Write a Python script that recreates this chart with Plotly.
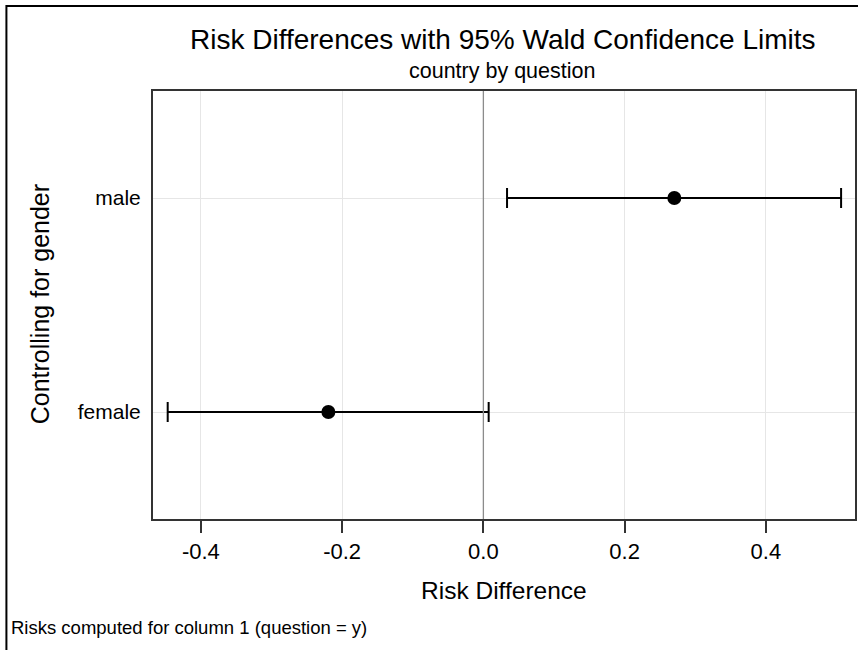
import plotly.graph_objects as go

# Risk difference estimates with 95% Wald confidence limits, by stratum
categories = ["female", "male"]
estimates = [-0.2195, 0.2704]
lower_limits = [-0.447, 0.0335]
upper_limits = [0.0075, 0.5065]
x_ticks = [-0.4, -0.2, 0.0, 0.2, 0.4]
x_tick_labels = ["-0.4", "-0.2", "0.0", "0.2", "0.4"]

FONT = "Liberation Sans, Arial, sans-serif"

err_plus = [u - e for u, e in zip(upper_limits, estimates)]
err_minus = [e - l for e, l in zip(estimates, lower_limits)]

fig = go.Figure()
fig.add_trace(go.Scatter(
    x=estimates,
    y=categories,
    mode="markers",
    marker=dict(symbol="circle", size=14, color="black"),
    error_x=dict(type="data", symmetric=False, array=err_plus, arrayminus=err_minus,
                 color="black", thickness=2, width=10),
    showlegend=False,
    hoverinfo="x+y",
))

# Reference line at zero difference
fig.add_shape(type="line", xref="x", yref="paper", x0=0, x1=0, y0=0, y1=1,
              line=dict(color="#8c8c8c", width=1.3), layer="above")

# Outer graph border
fig.add_shape(type="rect", xref="paper", yref="paper",
              x0=(6 - 153) / 704, x1=(866 - 153) / 704,
              y0=(519 - 660) / 428, y1=(519 - 6) / 428,
              line=dict(color="black", width=2), fillcolor="rgba(0,0,0,0)")


def py(pixel_y):
    """Convert a page pixel row to paper y (plot area spans rows 91..519)."""
    return (519 - pixel_y) / 428


def px(pixel_x):
    """Convert a page pixel column to paper x (plot area spans columns 153..857)."""
    return (pixel_x - 153) / 704


annotations = [
    dict(text="Risk Differences with 95% Wald Confidence Limits", x=px(504), y=py(39),
         font=dict(size=28, family=FONT, color="black")),
    dict(text="country by question", x=px(503), y=py(71),
         font=dict(size=21.5, family=FONT, color="black")),
    dict(text="Risk Difference", x=px(505), y=py(590),
         font=dict(size=24.5, family=FONT, color="black")),
    dict(text="Controlling for gender", x=px(40), y=py(304), textangle=-90,
         font=dict(size=25, family=FONT, color="black")),
    dict(text="Risks computed for column 1 (question = y)", x=px(9),
         y=py(627), xanchor="left",
         font=dict(size=18.5, family=FONT, color="black")),
]
for a in annotations:
    a.setdefault("xanchor", "center")
    a.update(xref="paper", yref="paper", yanchor="middle", showarrow=False)

fig.update_layout(
    width=858, height=650,
    margin=dict(l=153, r=1, t=91, b=131),
    paper_bgcolor="white", plot_bgcolor="white",
    font=dict(family=FONT, color="black"),
    annotations=annotations,
    xaxis=dict(
        range=[-0.4678, 0.5262],
        tickvals=x_ticks, ticktext=x_tick_labels,
        ticks="outside", ticklen=12, tickwidth=1.5, tickcolor="#333",
        tickfont=dict(size=22, family=FONT, color="black"),
        showgrid=True, gridcolor="#e6e6e6", gridwidth=1,
        zeroline=False,
        showline=True, linecolor="#333", linewidth=2, mirror=True,
    ),
    yaxis=dict(
        type="category",
        categoryorder="array", categoryarray=categories,
        range=[-0.5, 1.5],
        ticks="", ticklabelstandoff=6,
        tickfont=dict(size=21, family=FONT, color="black"),
        showgrid=True, gridcolor="#e6e6e6", gridwidth=1,
        zeroline=False,
        showline=True, linecolor="#333", linewidth=2, mirror=True,
    ),
)

fig.write_html("out.html")
